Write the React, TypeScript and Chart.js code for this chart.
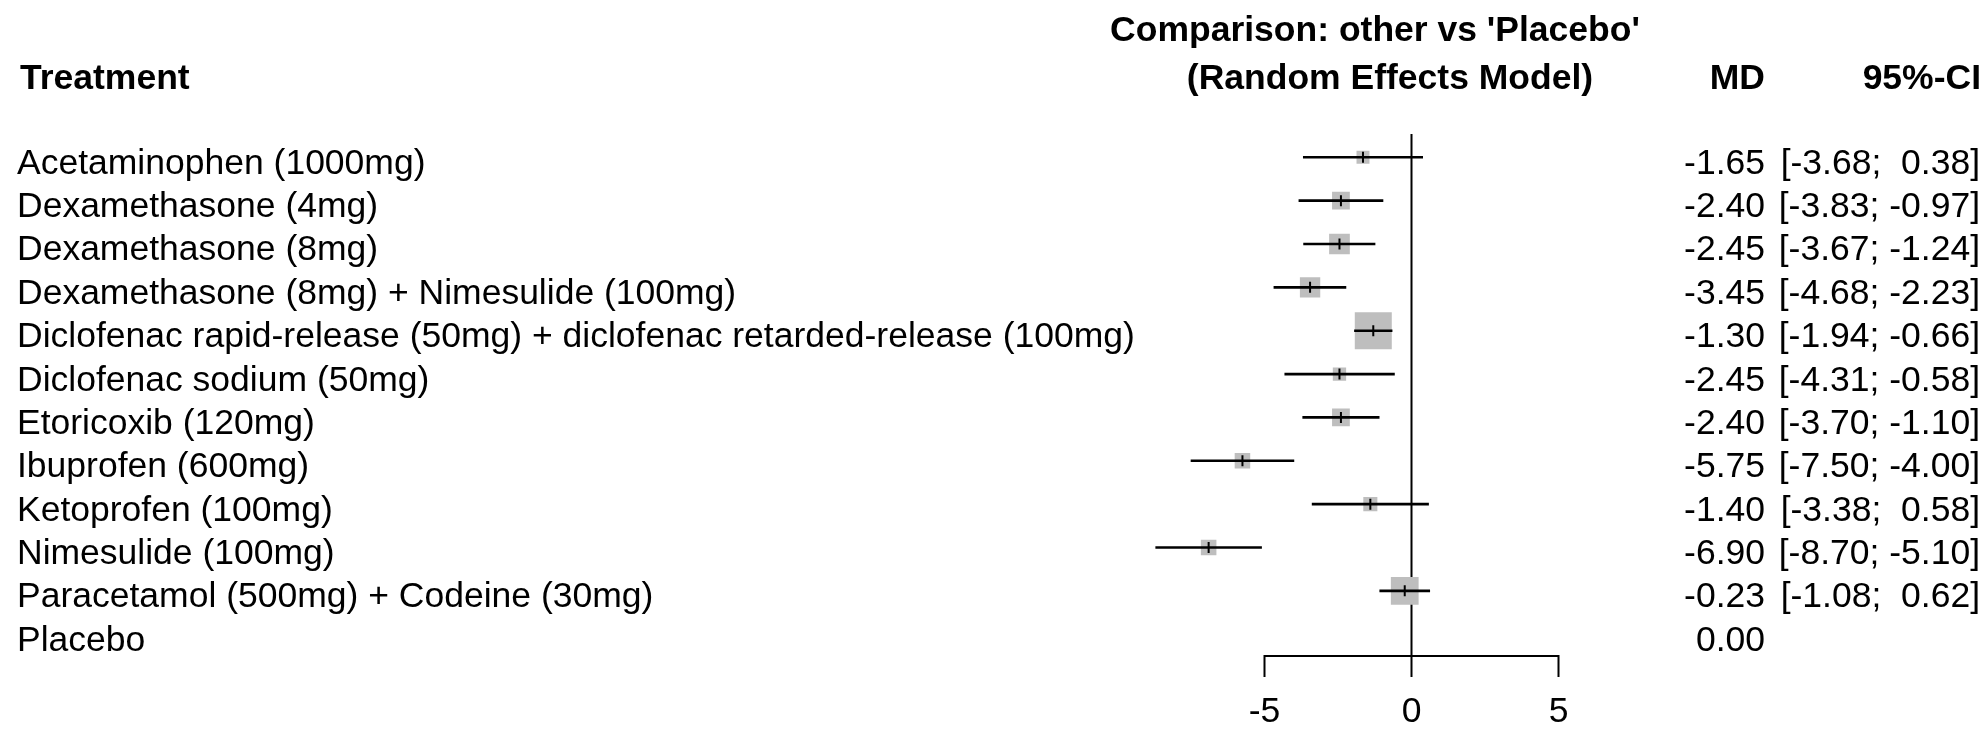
import React, { useEffect, useRef } from "react";
import { Chart, registerables } from "chart.js";

Chart.register(...registerables);

// Network meta-analysis: mean difference of each treatment vs placebo
const treatments = [
  "Acetaminophen (1000mg)",
  "Dexamethasone (4mg)",
  "Dexamethasone (8mg)",
  "Dexamethasone (8mg) + Nimesulide (100mg)",
  "Diclofenac rapid-release (50mg) + diclofenac retarded-release (100mg)",
  "Diclofenac sodium (50mg)",
  "Etoricoxib (120mg)",
  "Ibuprofen (600mg)",
  "Ketoprofen (100mg)",
  "Nimesulide (100mg)",
  "Paracetamol (500mg) + Codeine (30mg)",
  "Placebo",
];
const meanDiff = [-1.65, -2.4, -2.45, -3.45, -1.3, -2.45, -2.4, -5.75, -1.4, -6.9, -0.23, 0.0];
const ciLower = [-3.68, -3.83, -3.67, -4.68, -1.94, -4.31, -3.7, -7.5, -3.38, -8.7, -1.08, null];
const ciUpper = [0.38, -0.97, -1.24, -2.23, -0.66, -0.58, -1.1, -4.0, 0.58, -5.1, 0.62, null];
// relative weight of each comparison (largest = 1)
const weights = [0.35, 0.48, 0.56, 0.55, 1.0, 0.36, 0.48, 0.42, 0.38, 0.42, 0.75, null];
const axisTicks = [-5, 0, 5];

const headerTreatment = "Treatment";
const headerComparison = ["Comparison: other vs 'Placebo'", "(Random Effects Model)"];
const headerMD = "MD";
const headerCI = "95%-CI";

const FONT = "'Liberation Sans', Arial, Helvetica, sans-serif";
const FONT_SIZE = 35.5;
const MAX_BOX = 37;

const fmt = (v: number) => (v < 0 ? "" : " ") + v.toFixed(2);

const forestPlugin = {
  id: "forestDecor",
  beforeDatasetsDraw(chart: any) {
    const { ctx, chartArea, scales } = chart;
    const x0 = scales.x.getPixelForValue(0);
    ctx.save();
    ctx.strokeStyle = "#000";
    ctx.lineWidth = 2;
    ctx.beginPath();
    ctx.moveTo(x0, chartArea.top - 1.5);
    ctx.lineTo(x0, chartArea.bottom);
    ctx.stroke();
    ctx.restore();
  },
  afterDraw(chart: any) {
    const { ctx, chartArea, scales } = chart;
    const xs = scales.x;
    const ys = scales.y;
    ctx.save();
    ctx.fillStyle = "#000";
    ctx.strokeStyle = "#000";

    // x axis (spans the tick range only)
    const axisY = chartArea.bottom;
    const tickLen = 21;
    const first = xs.getPixelForValue(axisTicks[0]);
    const last = xs.getPixelForValue(axisTicks[axisTicks.length - 1]);
    ctx.lineWidth = 2;
    ctx.lineJoin = "miter";
    ctx.beginPath();
    ctx.moveTo(first, axisY + tickLen);
    ctx.lineTo(first, axisY);
    ctx.lineTo(last, axisY);
    ctx.lineTo(last, axisY + tickLen);
    for (const t of axisTicks.slice(1, -1)) {
      const px = xs.getPixelForValue(t);
      ctx.moveTo(px, axisY);
      ctx.lineTo(px, axisY + tickLen);
    }
    ctx.stroke();

    ctx.font = `${FONT_SIZE}px ${FONT}`;
    ctx.textAlign = "center";
    ctx.textBaseline = "alphabetic";
    for (const t of axisTicks) {
      ctx.fillText(String(t), xs.getPixelForValue(t), axisY + 66);
    }

    // headers
    ctx.font = `bold ${FONT_SIZE}px ${FONT}`;
    ctx.textAlign = "left";
    ctx.fillText(headerTreatment, 20, 89);
    ctx.textAlign = "center";
    ctx.fillText(headerComparison[0], 1375, 41);
    ctx.fillText(headerComparison[1], 1390, 89);
    ctx.textAlign = "right";
    ctx.fillText(headerMD, 1765, 89);
    ctx.fillText(headerCI, 1981, 89);

    // row texts
    ctx.font = `${FONT_SIZE}px ${FONT}`;
    treatments.forEach((name, i) => {
      const y = ys.getPixelForValue(i) + 16.5;
      ctx.textAlign = "left";
      ctx.fillText(name, 17, y);
      ctx.textAlign = "right";
      ctx.fillText(meanDiff[i].toFixed(2), 1765, y);
      const lo = ciLower[i];
      const hi = ciUpper[i];
      if (lo !== null && hi !== null) {
        ctx.fillText(`[${fmt(lo)}; ${fmt(hi)}]`, 1980, y);
      }
    });
    ctx.restore();
  },
};

export default function App() {
  const canvasRef = useRef<HTMLCanvasElement | null>(null);

  useEffect(() => {
    const canvas = canvasRef.current;
    if (!canvas) return;

    const ciData = treatments.map((_, i) =>
      ciLower[i] !== null && ciUpper[i] !== null ? [ciLower[i], ciUpper[i]] : null
    );
    const boxData: any[] = [];
    const estData: any[] = [];
    treatments.forEach((name, i) => {
      if (weights[i] !== null) {
        boxData.push({ x: meanDiff[i], y: name, w: weights[i] });
        estData.push({ x: meanDiff[i], y: name });
      }
    });

    const chart = new Chart(canvas, {
      type: "bar",
      data: {
        labels: treatments,
        datasets: [
          {
            type: "scatter",
            label: "weight",
            data: boxData,
            pointStyle: "rect",
            backgroundColor: "#BEBEBE",
            borderWidth: 0,
            pointRadius: (c: any) => ((c.raw?.w ?? 0) * MAX_BOX) / Math.SQRT2,
            order: 3,
          } as any,
          {
            type: "bar",
            label: "95%-CI",
            data: ciData as any,
            backgroundColor: "#000",
            borderWidth: 0,
            barThickness: 2,
            indexAxis: "y",
            order: 2,
          } as any,
          {
            type: "scatter",
            label: "MD",
            data: estData,
            pointStyle: "line",
            rotation: 90,
            pointRadius: 5.5,
            borderColor: "#000",
            borderWidth: 2,
            order: 1,
          } as any,
        ],
      },
      options: {
        indexAxis: "y",
        animation: false,
        responsive: false,
        maintainAspectRatio: false,
        events: [],
        layout: {
          padding: { left: 1117.5, right: 398.1, top: 135.6, bottom: 81.1 },
        },
        plugins: {
          legend: { display: false },
          tooltip: { enabled: false },
          title: { display: false },
        },
        scales: {
          x: { type: "linear", min: -10, max: 6, display: false },
          y: { type: "category", labels: treatments, offset: true, display: false },
        },
      } as any,
      plugins: [forestPlugin],
    });

    return () => chart.destroy();
  }, []);

  return (
    <div style={{ position: "absolute", left: 0, top: 0, width: 1986, height: 737, background: "#fff" }}>
      <canvas ref={canvasRef} width={1986} height={737} />
    </div>
  );
}
